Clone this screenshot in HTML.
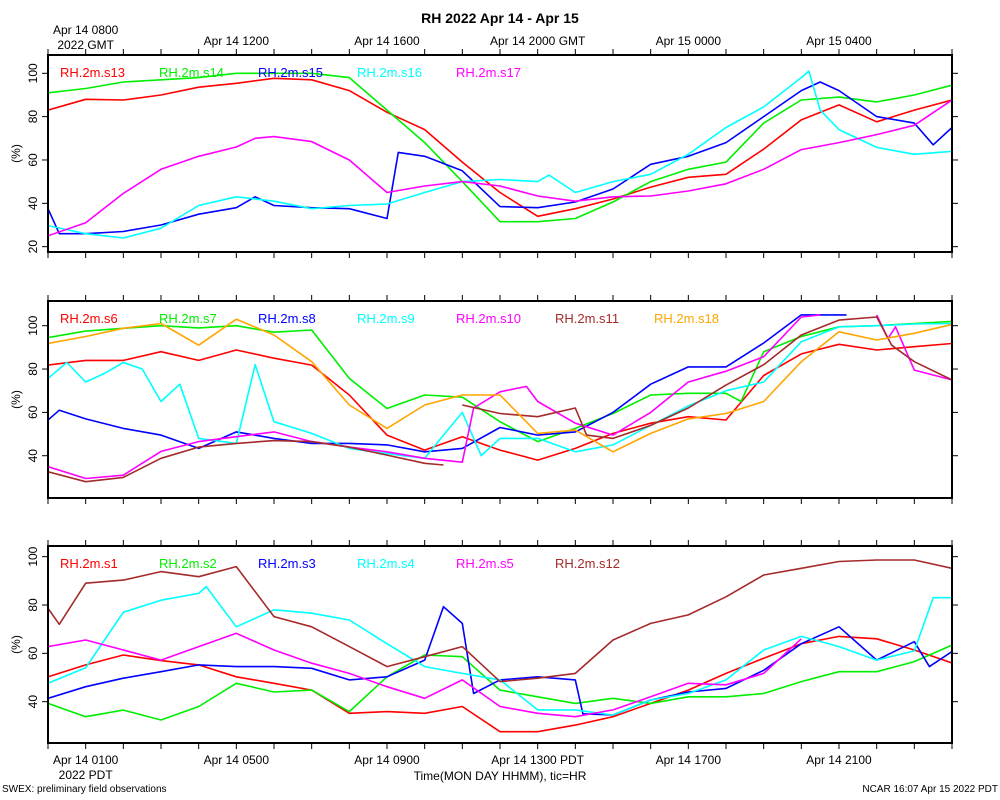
<!DOCTYPE html>
<html><head><meta charset="utf-8"><style>
body{margin:0;background:#fff;}
svg{display:block;font-family:"Liberation Sans",sans-serif;}
</style></head><body>
<svg id="chart" width="1000" height="800" viewBox="0 0 1000 800">
<rect width="1000" height="800" fill="#fff"/>
<text x="500" y="23" text-anchor="middle" font-size="14" font-weight="bold">RH 2022 Apr 14 - Apr 15</text>
<text x="2" y="792" font-size="10">SWEX: preliminary field observations</text>
<text x="998" y="792" font-size="10" text-anchor="end">NCAR 16:07 Apr 15 2022 PDT</text>
<text x="500" y="780" text-anchor="middle" font-size="12">Time(MON DAY HHMM), tic=HR</text>
<g id="layer"></g>
</svg>
<script>
// ---------- data ----------
const topTickLabels = ["Apr 14 0800","Apr 14 1200","Apr 14 1600","Apr 14 2000 GMT","Apr 15 0000","Apr 15 0400"];
const bottomTickLabels = ["Apr 14 0100","Apr 14 0500","Apr 14 0900","Apr 14 1300 PDT","Apr 14 1700","Apr 14 2100"];
const labelHours = [1,5,9,13,17,21];
const H = [0,1,2,3,4,5,6,7,8,9,10,11,12,13,14,15,16,17,18,19,20,21,22,23,24];

// panel 1
const p1Ticks = [20,40,60,80,100];
const s13H = H;
const s13V = [83,88,87.7,90,93.6,95.4,97.7,97,92,82,74,59,45,34,37.5,42,47.5,52,53.4,65,78.5,85.4,77.6,83,87.7];
const s14H = H;
const s14V = [91,93,96,97,98,100,100,100,98,83,68,50,31.5,31.5,33,40.6,50,55.7,59,77,87.7,89,86.8,90,94.5];
const s15H = [0,0.3,1,2,3,4,5,5.5,6,7,8,9,9.3,10,11,12,13,14,15,16,17,18,19,20,20.5,21,22,23,23.5,24];
const s15V = [37.5,26,26,27,30,35,38,43,39,38,37.5,33,63.5,61.7,55,38.5,38,40.6,46.6,58,61.7,68,80,92,96,92,80,77,67,75];
const s16H = [0,1,2,3,4,5,6,7,8,9,10,11,12,13,13.3,14,15,16,17,18,19,20,20.2,20.5,21,22,23,24];
const s16V = [29.7,26,24,28.5,39,43,41,37.5,39,39.7,45,50,51,50,53,45,50,53.4,62.6,75,84.5,98,101,83,74,65.8,62.6,64];
const s17H = [0,1,2,3,4,5,5.5,6,7,8,9,10,11,12,13,14,15,16,17,18,19,20,21,22,23,24];
const s17V = [25,31,44.6,55.7,61.7,66,70,70.8,68.5,60,45,48,50,48,43.4,41,43,43.4,45.7,49,55.7,64.8,68,71.7,76,87.7];

// panel 2
const p2Ticks = [40,60,80,100];
const s6H = H;
const s6V = [81.8,84,84,88,84,88.8,85,81.8,68,49.5,42.6,48.8,42.6,38,43.4,50.3,55,58,56.5,77,87,91.4,88.8,90.3,91.8];
const s7H = [0,1,2,3,4,5,6,7,8,9,10,11,12,13,14,15,16,17,18,18.4,19,20,21,22,23,24];
const s7V = [94.5,97.5,98.8,100,99,100,97,98,75.7,61.8,68,67,55.7,46.5,52.6,59.5,68,68.8,68.8,65,88,95,99.5,100,101,102];
const s8H = [0,0.3,1,2,3,4,5,6,7,8,9,10,11,12,13,14,15,16,17,18,19,20,21,21.2];
const s8V = [56.5,61,57,52.6,49.5,43.4,51,48,45.7,45.7,45,41.8,43.4,53,49.5,51,60,73,81,81,92,105,105,105];
const s9H = [0,0.5,1,1.5,2,2.5,3,3.5,4,5,5.5,6,7,8,9,10,10.5,11,11.5,12,13,14,15,16,17,18,19,20,21,22,23,24];
const s9V = [75.7,83,74,78,83,80,65,73,48,45.7,82,55.7,50.3,43.4,41,38.8,49.5,60,40,48,48,41.8,45,54,63,70,74,92.6,99.5,100,100.8,101];
const s10H = [0,1,2,3,4,5,6,7,8,9,10,11,11.3,12,12.7,13,14,15,16,17,18,19,20,20.5,21,22,22.3,22.5,23,24];
const s10V = [35,29.5,31,42,46.5,48.8,51,46.5,44,41.8,38.8,37,62,69.5,72,65,55,49.5,60,74,79,85.7,104,105,null,105,94,99.5,79.5,75];
const s11H = [0,1,2,3,4,5,6,7,8,9,10,10.5,10.7,11,12,13,14,14.3,15,16,17,18,19,20,21,22,22.4,23,24];
const s11V = [32.6,28,30,38.8,44,45.7,47,46.5,44,40.3,36.5,35.7,null,63.4,59.5,58,62,49.5,48,54,62,72.6,82,95.7,102.6,104,91,83.4,75];
const s18H = H;
const s18V = [91.8,95,98.8,101,91,103,95.7,83.4,63.4,52.6,63.4,68,68,50.3,51.8,41.8,50.3,57,59.5,65,83.4,97.2,93.4,96.5,100.6];

// panel 3
const p3Ticks = [40,60,80,100];
const s1H = H;
const s1V = [50.3,55.2,59.3,57,55.2,50.3,47.6,44.8,35.2,35.9,35.2,38,27.6,27.6,30.3,33.8,39.3,44.8,51.7,58,64,67,66,61.4,56];
const s2H = H;
const s2V = [39.3,33.8,36.5,32.4,38,47.6,44,44.8,35.9,50.3,59.3,58.6,44.8,42,39.3,41.4,39.3,42,42,43.4,48.3,52.4,52.4,56.6,63.4];
const s3H = [0,1,2,3,4,5,6,7,8,9,10,10.5,11,11.3,12,13,14,14.2,15,16,17,18,19,20,21,22,23,23.4,24];
const s3V = [41.4,46.2,49.7,52.4,55.2,54.5,54.5,53.8,49,50.3,57.2,79.3,72.4,43.4,49,50.3,49,35,34.5,40.7,44,45.5,53,64,71,57.2,64.8,54.5,60.7];
const s4H = [0,1,2,3,4,4.2,5,6,7,8,9,10,11,12,13,14,15,16,17,18,19,20,21,22,23,23.5,24];
const s4V = [47.6,54,77,82,84.8,87.6,71,78,76.6,73.8,64,54.5,51.7,49,36.6,36.6,34.5,40.7,43.4,49,61.4,67,62.8,57.2,61,83,83];
const s5H = [0,1,2,3,4,5,6,7,8,9,10,11,12,13,14,15,16,17,18,19,20];
const s5V = [62.8,65.5,61.4,57.2,62.8,68.3,61.4,55.9,51.7,46.2,41.4,49,38,35.2,33.8,36.6,42,47.6,47,51.7,66];
const s12H = [0,0.3,1,2,3,4,5,6,7,8,9,10,11,12,13,14,15,16,17,18,19,20,21,22,23,24];
const s12V = [78.6,72,89,90.3,93.8,91.7,95.9,75.2,71,62.8,54.5,58.6,62.8,48.3,49.7,51.7,65.5,72.4,75.9,83.4,92.4,95.2,98,98.6,98.6,95.2];

// ---------- drawing ----------
const NS = "http://www.w3.org/2000/svg";
const layer = document.getElementById('layer');
const X0 = 48, X1 = 952;
const xs = h => X0 + (X1 - X0) * h / 24;
const C = {red:"#ff0000",green:"#00ee00",blue:"#0000ff",cyan:"#00ffff",magenta:"#ff00ff",brown:"#a52a2a",orange:"#ffa500"};

function mk(tag, attrs, parent){
  const e = document.createElementNS(NS, tag);
  for (const k in attrs) e.setAttribute(k, attrs[k]);
  (parent || layer).appendChild(e);
  return e;
}

const panels = [
  {top:55, bot:252, refY:73.3, refV:100, ppu:2.167, ticks:p1Ticks, name:"panel-top",
   series:[["RH.2m.s13",s13H,s13V,C.red],["RH.2m.s14",s14H,s14V,C.green],["RH.2m.s15",s15H,s15V,C.blue],["RH.2m.s16",s16H,s16V,C.cyan],["RH.2m.s17",s17H,s17V,C.magenta]]},
  {top:301, bot:498, refY:325.7, refV:100, ppu:2.167, ticks:p2Ticks, name:"panel-middle",
   series:[["RH.2m.s6",s6H,s6V,C.red],["RH.2m.s7",s7H,s7V,C.green],["RH.2m.s8",s8H,s8V,C.blue],["RH.2m.s9",s9H,s9V,C.cyan],["RH.2m.s10",s10H,s10V,C.magenta],["RH.2m.s11",s11H,s11V,C.brown],["RH.2m.s18",s18H,s18V,C.orange]]},
  {top:546, bot:743, refY:605, refV:80, ppu:2.417, ticks:p3Ticks, name:"panel-bottom",
   series:[["RH.2m.s1",s1H,s1V,C.red],["RH.2m.s2",s2H,s2V,C.green],["RH.2m.s3",s3H,s3V,C.blue],["RH.2m.s4",s4H,s4V,C.cyan],["RH.2m.s5",s5H,s5V,C.magenta],["RH.2m.s12",s12H,s12V,C.brown]]}
];

panels.forEach((p, pi) => {
  const ys = v => p.refY + (p.refV - v) * p.ppu;
  const g = mk('g', {});
  
  
  const cid = 'clip' + pi;
  const cp = mk('clipPath', {id: cid}, g);
  mk('rect', {x: X0, y: p.top, width: X1 - X0, height: p.bot - p.top}, cp);

  // series
  p.series.forEach(s => {
    const [name, hs, vs, col] = s;
    let d = "", pen = false;
    hs.forEach((h, i) => {
      const v = vs[i];
      if (v === null || v === undefined) { pen = false; return; }
      d += (pen ? "L" : "M") + xs(h).toFixed(1) + "," + ys(v).toFixed(1);
      pen = true;
    });
    const path = mk('path', {d: d, fill: "none", stroke: col, "stroke-width": 1.6, "stroke-linejoin": "round", "clip-path": "url(#" + cid + ")"}, g);
    
    
  });

  // legend
  p.series.forEach((s, i) => {
    const t = mk('text', {x: 60 + i * 99, y: p.top + 22, "font-size": 13, fill: s[3]}, g);
    t.textContent = s[0];
    
    
  });

  // frame
  const fr = mk('rect', {x: X0, y: p.top, width: X1 - X0, height: p.bot - p.top, fill: "none", stroke: "#000", "stroke-width": 2}, g);
  
  

  // x ticks (hourly)
  for (let h = 0; h <= 24; h++) {
    const x = xs(h);
    mk('line', {x1: x, x2: x, y1: p.top, y2: p.top - 6, stroke: "#000", "stroke-width": 1}, g);
    mk('line', {x1: x, x2: x, y1: p.bot, y2: p.bot + 6, stroke: "#000", "stroke-width": 1}, g);
  }
  // y ticks
  p.ticks.forEach(v => {
    const y = ys(v);
    mk('line', {x1: X0, x2: X0 - 6, y1: y, y2: y, stroke: "#000", "stroke-width": 1}, g);
    mk('line', {x1: X1, x2: X1 + 6, y1: y, y2: y, stroke: "#000", "stroke-width": 1}, g);
    const t = mk('text', {x: 0, y: 0, "font-size": 12, "text-anchor": "middle", transform: "translate(37," + y + ") rotate(-90)"}, g);
    t.textContent = v;
    
    
  });
  const yt = mk('text', {x: 0, y: 0, "font-size": 12, "text-anchor": "middle", transform: "translate(20," + ((p.top + p.bot) / 2) + ") rotate(-90)"}, g);
  yt.textContent = "(%)";
  
  
});

// top GMT labels
labelHours.forEach((h, i) => {
  const t = mk('text', {x: xs(h), y: i === 0 ? 34 : 45, "font-size": 12, "text-anchor": "middle"});
  t.textContent = topTickLabels[i];
  
  
});
const g1 = mk('text', {x: xs(1), y: 49, "font-size": 12, "text-anchor": "middle"});
g1.textContent = "2022 GMT";



// bottom PDT labels
labelHours.forEach((h, i) => {
  const t = mk('text', {x: xs(h), y: 764, "font-size": 12, "text-anchor": "middle"});
  t.textContent = bottomTickLabels[i];
  
  
});
const b1 = mk('text', {x: xs(1), y: 779, "font-size": 12, "text-anchor": "middle"});
b1.textContent = "2022 PDT";


</script>
</body></html>
